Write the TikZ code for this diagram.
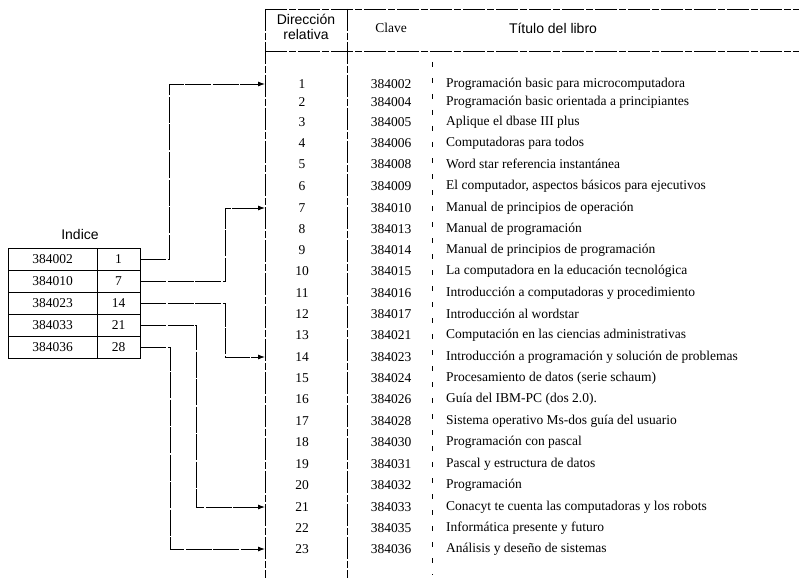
\documentclass[tikz,border=0pt]{standalone}
\usepackage{fontspec}
\setmainfont{Liberation Serif}
\setsansfont{Liberation Sans}
\usetikzlibrary{arrows.meta}
\tikzset{
  rule/.style={line width=0.8pt, dash pattern=on 22pt off 2pt on 7pt off 2pt},
  faint/.style={line width=0.6pt, dash pattern=on 5pt off 11pt},
  conn/.style={line width=0.9pt, dash pattern=on 26pt off 1.5pt, -{Latex[length=7pt,width=5pt]}},
  cell/.style={draw, line width=0.8pt, minimum height=22pt, inner sep=0pt, font=\fontsize{13.5}{15}\selectfont},
  num/.style={font=\fontsize{13.5}{15}\selectfont, inner sep=0pt},
  ttl/.style={font=\fontsize{13.5}{15}\selectfont, inner sep=0pt, anchor=west},
  hdr/.style={font=\sffamily\fontsize{14}{16}\selectfont, inner sep=0pt, align=center}
}
\begin{document}
\begin{tikzpicture}[x=1pt,y=-1pt]
\useasboundingbox (0,0) rectangle (799,580);
% header
\node[hdr] (hdir) at (306,27) {Dirección\\[-1pt]relativa};
\node[num] (hcla) at (391,28) {Clave};
\node[hdr] (htit) at (553,28) {Título del libro};
\draw[rule] (265,9) -- (799,9);
\draw[rule] (265,51) -- (799,51);
\draw[rule] (265,9) -- (265,578);
\draw[rule] (347,9) -- (347,578);
\draw[faint] (432,62) -- (432,575);
% rows
\foreach \i/\y/\c/\t in {
 1/84/384002/{Programación basic para microcomputadora},
 2/102/384004/{Programación basic orientada a principiantes},
 3/122/384005/{Aplique el dbase III plus},
 4/143/384006/{Computadoras para todos},
 5/164/384008/{Word star referencia instantánea},
 6/186/384009/{El computador, aspectos básicos para ejecutivos},
 7/208/384010/{Manual de principios de operación},
 8/229/384013/{Manual de programación},
 9/250/384014/{Manual de principios de programación},
 10/271/384015/{La computadora en la educación tecnológica},
 11/293/384016/{Introducción a computadoras y procedimiento},
 12/314/384017/{Introducción al wordstar},
 13/335/384021/{Computación en las ciencias administrativas},
 14/357/384023/{Introducción a programación y solución de problemas},
 15/378/384024/{Procesamiento de datos (serie schaum)},
 16/399/384026/{Guía del IBM-PC (dos 2.0).},
 17/421/384028/{Sistema operativo Ms-dos guía del usuario},
 18/442/384030/{Programación con pascal},
 19/464/384031/{Pascal y estructura de datos},
 20/485/384032/{Programación},
 21/507/384033/{Conacyt te cuenta las computadoras y los robots},
 22/528/384035/{Informática presente y futuro},
 23/549/384036/{Análisis y deseño de sistemas}}{
  \node[num] (n\i) at (302,\y) {\i};
  \node[num] (c\i) at (391,\y) {\c};
  \node[ttl] (t\i) at (446,\y) {\t};
  \coordinate (a\i) at (265,\y);
}
% index table
\node[hdr] (ind) at (80,234) {Indice};
\foreach \k/\y/\key/\v in {1/259/384002/1, 2/281/384010/7, 3/303/384023/14, 4/325/384033/21, 5/347/384036/28}{
  \node[cell, minimum width=89pt] (ix\k) at (52.5,\y) {\key};
  \node[cell, minimum width=43pt] (iv\k) at (118.5,\y) {\v};
}
% connectors
\draw[conn] (iv1.east) -- ++(29,0) |- (a1);
\draw[conn] (iv2.east) -- ++(85,0) |- (a7);
\draw[conn] (iv3.east) -- ++(85,0) |- (a14);
\draw[conn] (iv4.east) -- ++(56,0) |- (a21);
\draw[conn] (iv5.east) -- ++(30,0) |- (a23);
\end{tikzpicture}
\end{document}
